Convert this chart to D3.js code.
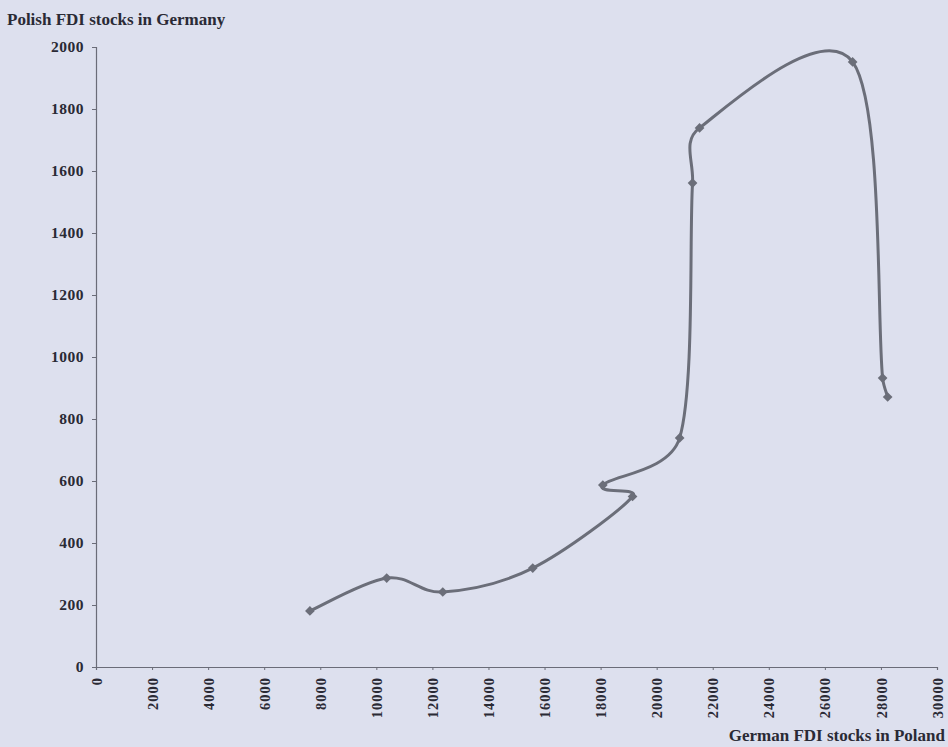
<!DOCTYPE html>
<html><head><meta charset="utf-8">
<script src="https://cdn.jsdelivr.net/npm/d3@7"></script>
<style>
body{margin:0;background:#dde0ee;}
svg{display:block;}
text{font-family:"Liberation Serif","DejaVu Serif",serif;font-weight:bold;fill:#2a2a35;}
</style></head>
<body>
<svg id="c" width="948" height="747"></svg>
<script>
const germanFDI = [7630, 10370, 12370, 15580, 19140, 18080, 20820, 21280, 21530, 26990, 28060, 28240];
const polishFDI = [181, 287, 242, 319, 550, 587, 739, 1561, 1739, 1952, 932, 871];
const xTicks = [0,2000,4000,6000,8000,10000,12000,14000,16000,18000,20000,22000,24000,26000,28000,30000];
const yTicks = [0,200,400,600,800,1000,1200,1400,1600,1800,2000];
const yTitle = "Polish FDI stocks in Germany";
const xTitle = "German FDI stocks in Poland";

// Spreadsheet-style smoothing: cardinal tangents (1/6) clamped relative to the segment length
function SmoothCurve(context){ this._context = context; }
SmoothCurve.prototype = {
  areaStart(){}, areaEnd(){},
  lineStart(){ this._pts = []; },
  point(x,y){ this._pts.push([+x,+y]); },
  lineEnd(){
    const p = this._pts, c = this._context, n = p.length;
    if(!n) return;
    c.moveTo(p[0][0], p[0][1]);
    const dist = (a,b)=>Math.hypot(a[0]-b[0], a[1]-b[1]);
    const k = 0.4;
    for(let i=0;i<n-1;i++){
      const p0 = p[Math.max(i-1,0)], p1 = p[i], p2 = p[i+1], p3 = p[Math.min(i+2,n-1)];
      const d12 = dist(p1,p2), d02 = dist(p0,p2) || 1, d13 = dist(p1,p3) || 1;
      const f1 = Math.min(1/6, k*d12/d02), f2 = Math.min(1/6, k*d12/d13);
      const c1 = [p1[0]+(p2[0]-p0[0])*f1, p1[1]+(p2[1]-p0[1])*f1];
      const c2 = [p2[0]-(p3[0]-p1[0])*f2, p2[1]-(p3[1]-p1[1])*f2];
      c.bezierCurveTo(c1[0],c1[1],c2[0],c2[1],p2[0],p2[1]);
    }
  }
};
const smoothCurve = ctx => new SmoothCurve(ctx);

const svg = d3.select("#c");
const x = d3.scaleLinear().domain([0,30000]).range([96,937]);
const y = d3.scaleLinear().domain([0,2000]).range([667,47]);
const axisColor = "#6a6c78";

// y axis
const ya = svg.append("g").attr("transform","translate(96,0)")
  .call(d3.axisLeft(y).tickValues(yTicks).tickSize(4).tickPadding(8).tickFormat(d3.format("d")));
ya.select(".domain").attr("stroke",axisColor).attr("stroke-width",1.2);
ya.selectAll(".tick line").attr("stroke",axisColor);
ya.selectAll(".tick text").attr("font-size",15.5).attr("fill","#2a2a35")
  .attr("font-family","Liberation Serif, serif").attr("font-weight","bold")
  .attr("letter-spacing","0.5px");

// x axis
const xa = svg.append("g").attr("transform","translate(0,667)")
  .call(d3.axisBottom(x).tickValues(xTicks).tickSize(3).tickFormat(d3.format("d")));
xa.select(".domain").attr("stroke",axisColor).attr("stroke-width",1.2);
xa.selectAll(".tick line").attr("stroke",axisColor);
xa.selectAll(".tick text").attr("font-size",14.5).attr("fill","#2a2a35")
  .attr("font-family","Liberation Serif, serif").attr("font-weight","bold")
  .attr("letter-spacing","1px")
  .attr("transform","rotate(-90)").attr("text-anchor","end")
  .attr("x",-10).attr("y",0).attr("dy","0.35em");

// titles
svg.append("text").attr("x",7).attr("y",25).attr("font-size",17).text(yTitle);
svg.append("text").attr("x",945).attr("y",741).attr("font-size",17).attr("text-anchor","end").text(xTitle);

const data = germanFDI.map((g,i)=>({g, p: polishFDI[i]}));
const line = d3.line().x(d=>x(d.g)).y(d=>y(d.p)).curve(smoothCurve);
svg.append("path").datum(data).attr("d",line).attr("fill","none")
  .attr("stroke","#6b6e79").attr("stroke-width",3).attr("stroke-linejoin","round");

svg.selectAll("path.m").data(data).enter().append("path").attr("class","m")
  .attr("transform",d=>`translate(${x(d.g)},${y(d.p)})`)
  .attr("d", d3.symbol().type(d3.symbolDiamond2).size(60))
  .attr("fill","#6b6e79");
</script>
</body></html>
